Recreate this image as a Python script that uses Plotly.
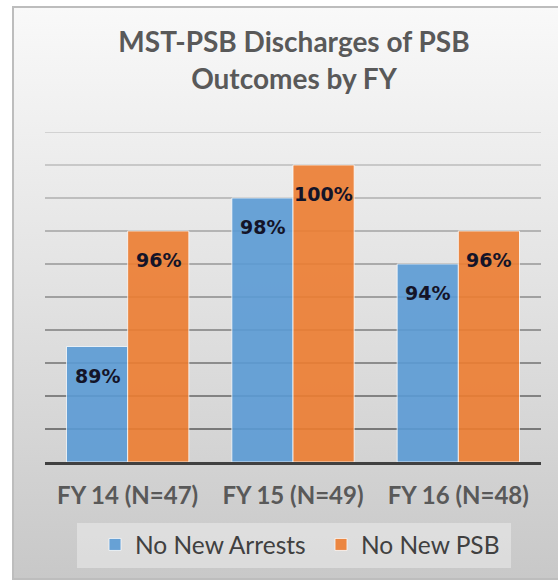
import base64
import plotly.graph_objects as go

categories = ["FY 14 (N=47)", "FY 15 (N=49)", "FY 16 (N=48)"]
no_new_arrests = [89, 98, 94]
no_new_psb = [96, 100, 96]
series_names = ["No New Arrests", "No New PSB"]
series_colors = ["#5B9BD5", "#ED7D31"]
title_text = "MST-PSB Discharges of PSB<br>Outcomes by FY"

y_min, y_max, y_step = 82, 102, 2

W, H = 558, 582
L, R, T, B = 45, 17, 132, 120
plot_w = W - L - R
plot_h = H - T - B


def px_to_paper_x(px):
    return (px - L) / plot_w


def px_to_paper_y(py):
    return (H - B - py) / plot_h


# gradient background card drawn as an inline svg image
svg = (
    '<svg xmlns="http://www.w3.org/2000/svg" width="550" height="574" preserveAspectRatio="none">'
    '<defs><linearGradient id="g" x1="0" y1="0" x2="0" y2="1">'
    '<stop offset="0" stop-color="#f9f9f9"/>'
    '<stop offset="0.5" stop-color="#e2e2e2"/>'
    '<stop offset="1" stop-color="#c8c8c8"/>'
    '</linearGradient></defs>'
    '<rect x="1" y="1" width="560" height="572" fill="url(#g)" stroke="#bdbdbd" stroke-width="2"/>'
    '</svg>'
)
bg_src = "data:image/svg+xml;base64," + base64.b64encode(svg.encode()).decode()

fig = go.Figure()
for name, vals, color in zip(series_names, [no_new_arrests, no_new_psb], series_colors):
    fig.add_trace(go.Bar(
        x=categories,
        y=[v - y_min for v in vals],
        base=y_min,
        name=name,
        marker=dict(color=color, line=dict(color="rgba(255,255,255,0.8)", width=1)),
        opacity=0.9,
        hoverinfo="skip",
    ))

# data labels near the top inside each bar
annotations = []
for i, vals in enumerate([no_new_arrests, no_new_psb]):
    shift = -30.5 if i == 0 else 30.5
    for cat, v in zip(categories, vals):
        annotations.append(dict(
            x=cat, y=v, xref="x", yref="y",
            text=f"{v}%", showarrow=False,
            xshift=shift, yanchor="top", yshift=-16,
            font=dict(family="DejaVu Sans", size=19, color="#141428", weight="bold"),
        ))

# gridlines, lighter towards the top
shapes = []
grid_vals = list(range(y_min + y_step, y_max + 1, y_step))
n = len(grid_vals)
for k, gv in enumerate(grid_vals):
    t = k / (n - 1)
    c = int(120 + t * (210 - 120))
    shapes.append(dict(
        type="line", xref="paper", yref="y",
        x0=0, x1=1, y0=gv, y1=gv,
        line=dict(color=f"rgb({c},{c},{c})", width=2),
        layer="below",
    ))

# legend panel
shapes.append(dict(
    type="rect", xref="paper", yref="paper",
    x0=px_to_paper_x(77), x1=px_to_paper_x(511),
    y0=px_to_paper_y(568), y1=px_to_paper_y(523),
    fillcolor="rgba(255,255,255,0.35)", line=dict(width=0),
    layer="below",
))

fig.update_layout(
    width=W, height=H,
    margin=dict(l=L, r=R, t=T, b=B, autoexpand=False),
    paper_bgcolor="white",
    plot_bgcolor="rgba(0,0,0,0)",
    barmode="group",
    bargap=0.26,
    bargroupgap=0,
    title=dict(
        text=title_text,
        x=px_to_paper_x(294), xref="paper", xanchor="center",
        y=0.91, yref="container", yanchor="top",
        font=dict(family="Lato", size=28, color="#595959", weight="bold"),
    ),
    xaxis=dict(
        showline=True, linecolor="#404040", linewidth=3,
        ticks="outside", ticklen=10, tickcolor="rgba(0,0,0,0)",
        tickfont=dict(family="Lato", size=24, color="#595959", weight="bold"),
        showgrid=False,
    ),
    yaxis=dict(range=[y_min, y_max], visible=False, showgrid=False),
    legend=dict(
        orientation="h",
        x=px_to_paper_x(95), xanchor="left",
        y=px_to_paper_y(522), yanchor="top",
        bgcolor="rgba(0,0,0,0)",
        font=dict(family="Lato", size=24.5, color="#404040"),
        itemwidth=30,
        entrywidth=181,
    ),
    images=[dict(
        source=bg_src,
        xref="paper", yref="paper",
        x=px_to_paper_x(12), y=px_to_paper_y(6),
        sizex=(W + 4 - 12) / plot_w, sizey=(580 - 6) / plot_h,
        xanchor="left", yanchor="top",
        sizing="stretch", layer="below",
    )],
    shapes=shapes,
    annotations=annotations,
    showlegend=True,
)

fig.write_html(
    "out.html",
    config={"displayModeBar": False},
    post_script="document.body.style.margin='0';",
)
